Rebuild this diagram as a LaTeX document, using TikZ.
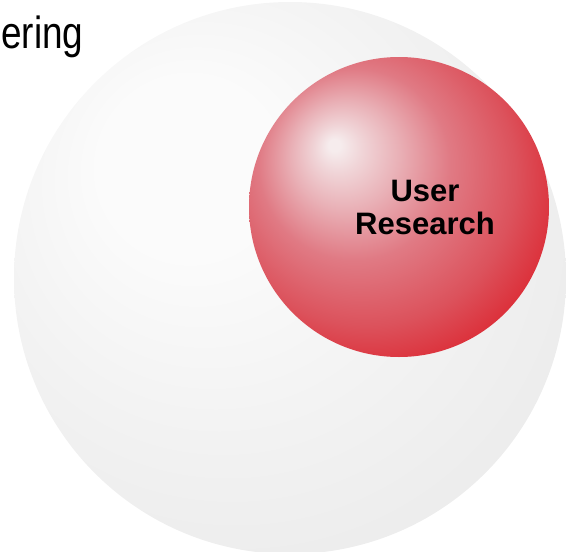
\documentclass[tikz,border=0pt]{standalone}
\usepackage{fontspec}
\setmainfont{Liberation Sans}
\definecolor{hilite}{RGB}{246,236,237}
\definecolor{pinkhi}{RGB}{240,212,215}
\definecolor{pinklt}{RGB}{233,176,182}
\definecolor{pinkmd}{RGB}{224,122,132}
\definecolor{redmd}{RGB}{220,82,92}
\definecolor{reddk}{RGB}{220,42,52}
\definecolor{redeg}{RGB}{218,28,38}
\definecolor{greyhi}{RGB}{251,251,251}
\definecolor{greymd}{RGB}{243,243,243}
\definecolor{greylo}{RGB}{236,236,236}
\definecolor{greyeg}{RGB}{229,229,229}
\pgfdeclareradialshading{redball}{\pgfpoint{-11bp}{10.5bp}}{%
  color(0bp)=(hilite); color(1bp)=(hilite); color(4bp)=(pinkhi);
  color(9bp)=(pinklt); color(16bp)=(pinkmd); color(25bp)=(redmd);
  color(32bp)=(reddk); color(40bp)=(redeg); color(50bp)=(redeg)}
\pgfdeclareradialshading{greyball}{\pgfpoint{-11bp}{12bp}}{%
  color(0bp)=(greyhi); color(8bp)=(greyhi); color(20bp)=(greymd);
  color(32bp)=(greylo); color(45bp)=(greyeg); color(50bp)=(greyeg)}
\tikzset{
  label/.style={inner sep=0pt, text=black},
}

\begin{document}
\begin{tikzpicture}[x=1pt,y=-1pt]
\useasboundingbox(0,0) rectangle (566,552);
\clip(0,0) rectangle (566,552);
%
\shade[shading=greyball](290,278) circle (276);
\shade[shading=redball](399,207) circle (150);
%
\node[label,anchor=base west,font=\fontsize{45}{50}\selectfont](ering) at (1,48){\scalebox{0.82}[1]{ering}};
\node[label,align=center,font=\fontsize{31}{33}\selectfont\bfseries](research) at (425,207){User\\Research};
\end{tikzpicture}
\end{document}
